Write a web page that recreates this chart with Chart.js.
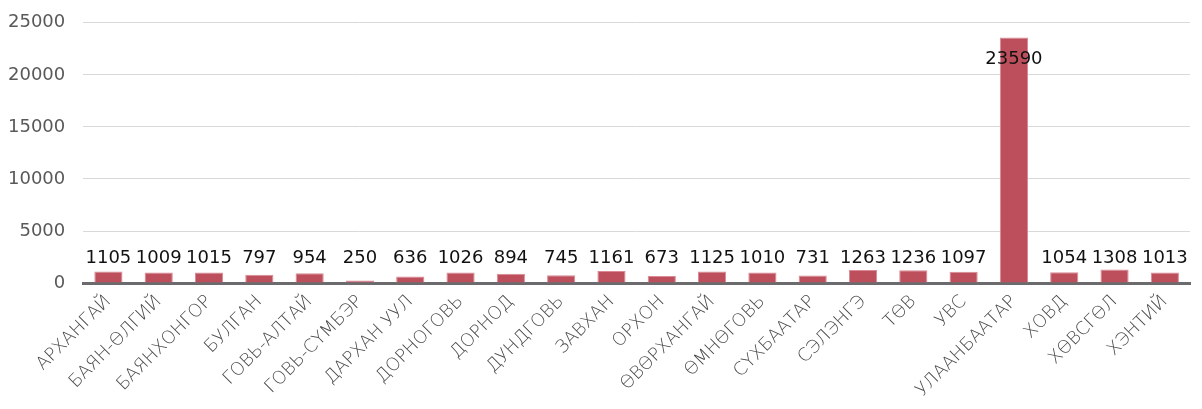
<!DOCTYPE html>
<html>
<head>
<meta charset="utf-8">
<script src="https://cdn.jsdelivr.net/npm/chart.js@4"></script>
<style>
  html, body { margin: 0; padding: 0; background: #fff; overflow: hidden; }
  #wrap { width: 1202px; height: 415px; margin-top: -6px; position: relative; }
</style>
</head>
<body>
<div id="wrap"><canvas id="chart"></canvas></div>
<script>
// Data
const aimags = ['АРХАНГАЙ', 'БАЯН-ӨЛГИЙ', 'БАЯНХОНГОР', 'БУЛГАН', 'ГОВЬ-АЛТАЙ', 'ГОВЬ-СҮМБЭР',
  'ДАРХАН УУЛ', 'ДОРНОГОВЬ', 'ДОРНОД', 'ДУНДГОВЬ', 'ЗАВХАН', 'ОРХОН', 'ӨВӨРХАНГАЙ', 'ӨМНӨГОВЬ',
  'СҮХБААТАР', 'СЭЛЭНГЭ', 'ТӨВ', 'УВС', 'УЛААНБААТАР', 'ХОВД', 'ХӨВСГӨЛ', 'ХЭНТИЙ'];
const counts = [1105, 1009, 1015, 797, 954, 250, 636, 1026, 894, 745, 1161, 673, 1125, 1010,
  731, 1263, 1236, 1097, 23590, 1054, 1308, 1013];
const yTicks = [0, 5000, 10000, 15000, 20000, 25000];

const FONT = "'DejaVu Sans', sans-serif";

// value labels: small bars share one row above the tallest small bar, big bar gets label inside
const valueLabels = {
  id: 'valueLabels',
  afterDatasetsDraw(chart) {
    const ctx = chart.ctx;
    const meta = chart.getDatasetMeta(0);
    const y = chart.scales.y;
    const rowY = y.getPixelForValue(1308) - 2;
    ctx.save();
    ctx.font = '18px ' + FONT;
    ctx.fillStyle = '#111';
    ctx.textAlign = 'center';
    meta.data.forEach((bar, i) => {
      const v = counts[i];
      if (v > 5000) {
        ctx.textBaseline = 'middle';
        ctx.fillText(String(v), bar.x, bar.y + 22);
      } else {
        ctx.textBaseline = 'bottom';
        ctx.fillText(String(v), bar.x, Math.min(rowY, bar.y - 2));
      }
    });
    ctx.restore();
  }
};

new Chart(document.getElementById('chart'), {
  type: 'bar',
  data: {
    labels: aimags,
    datasets: [{
      data: counts,
      backgroundColor: '#bd4f5c',
      borderColor: '#d98a94',
      borderWidth: { top: 1, left: 1, right: 1, bottom: 0 },
      categoryPercentage: 1,
      barPercentage: 0.56,
    }]
  },
  options: {
    responsive: true,
    maintainAspectRatio: false,
    animation: false,
    layout: { padding: { left: -10, right: 12, top: 0, bottom: 0 } },
    plugins: { legend: { display: false }, tooltip: { enabled: false } },
    scales: {
      x: {
        grid: { display: false, drawTicks: false },
        border: { display: true, color: '#6b6b6e', width: 3 },
        ticks: {
          color: '#4a4a4a',
          font: { family: FONT, size: 18, weight: 300 },
          minRotation: 45, maxRotation: 45,
          padding: 8,
          autoSkip: false,
        }
      },
      y: {
        min: 0, max: 25000,
        afterBuildTicks: axis => { axis.ticks = yTicks.map(v => ({ value: v })); },
        grid: { color: '#d9d9d9', drawTicks: false },
        border: { display: false },
        ticks: {
          color: '#595959',
          font: { family: FONT, size: 18 },
          padding: 18,
          callback: v => String(v),
        }
      }
    }
  },
  plugins: [valueLabels]
});
</script>
</body>
</html>
